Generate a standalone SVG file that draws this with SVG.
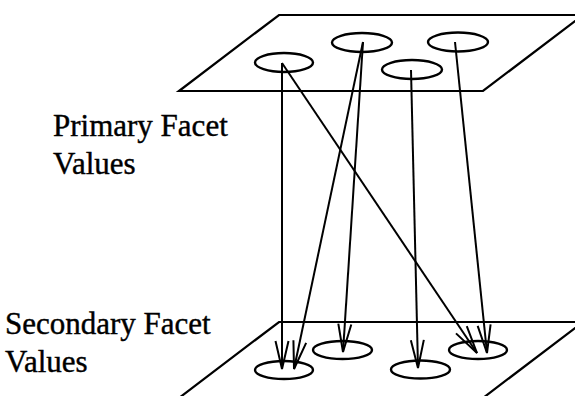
<svg xmlns="http://www.w3.org/2000/svg" width="575" height="396" viewBox="0 0 575 396">
<defs>
<style>
.plane{fill:none;stroke:#000;stroke-width:2.2}
.val{fill:none;stroke:#000;stroke-width:2.4}
.arr{fill:none;stroke:#000;stroke-width:2;marker-end:url(#ah)}
.lbl{font-family:"Liberation Serif","Times New Roman",serif;font-size:31px;fill:#000;stroke:#000;stroke-width:0.4}
</style>
<marker id="ah" viewBox="-30 -8 32 16" markerWidth="32" markerHeight="16" refX="0" refY="0" orient="auto" markerUnits="userSpaceOnUse">
<path d="M-28,-6.5 L0,0 L-28,6.5" fill="none" stroke="#000" stroke-width="2"/>
</marker>
</defs>
<rect width="575" height="396" fill="#fff"/>
<g id="primary-plane">
<polygon class="plane" points="279,15 583,15 483,91 179,91"/>
<ellipse class="val" cx="284" cy="62.5" rx="29" ry="9.5"/>
<ellipse class="val" cx="362" cy="42.5" rx="30" ry="9.5"/>
<ellipse class="val" cx="412" cy="69.5" rx="30" ry="9.5"/>
<ellipse class="val" cx="458" cy="42" rx="30" ry="9.5"/>
</g>
<g id="secondary-plane">
<polygon class="plane" points="279,322 583,322 483,398 179,398"/>
<ellipse class="val" cx="284" cy="370" rx="29" ry="9"/>
<ellipse class="val" cx="342.5" cy="350" rx="29.5" ry="9"/>
<ellipse class="val" cx="420.5" cy="369.5" rx="29.5" ry="9"/>
<ellipse class="val" cx="478" cy="350" rx="29" ry="9"/>
</g>
<g id="connectors">
<line class="arr" x1="282" y1="63" x2="282" y2="369"/>
<line class="arr" x1="363" y1="42" x2="294" y2="369"/>
<line class="arr" x1="363" y1="42" x2="343" y2="352"/>
<line class="arr" x1="282" y1="63" x2="477" y2="353"/>
<line class="arr" x1="411" y1="70" x2="418" y2="368"/>
<line class="arr" x1="455" y1="42" x2="487" y2="353"/>
</g>
<g id="label-primary">
<text class="lbl" x="53" y="136">Primary Facet</text>
<text class="lbl" x="53" y="174">Values</text>
</g>
<g id="label-secondary">
<text class="lbl" x="5" y="334">Secondary Facet</text>
<text class="lbl" x="5" y="372">Values</text>
</g>
</svg>
